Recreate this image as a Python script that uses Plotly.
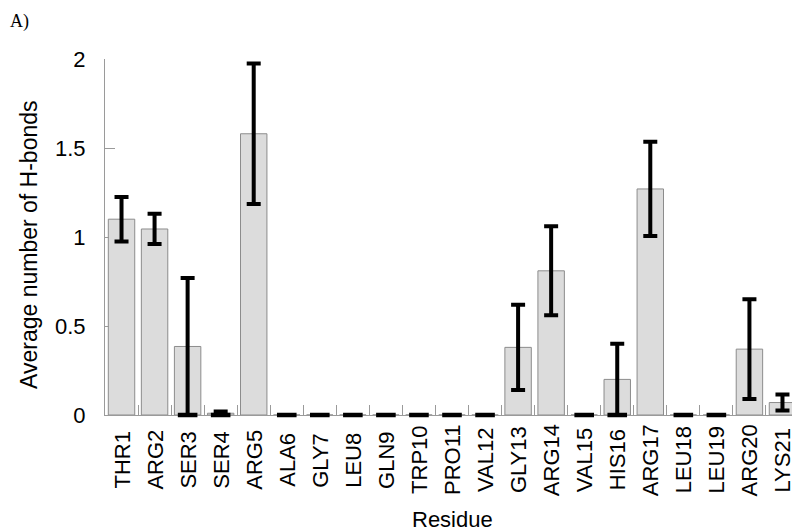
import plotly.graph_objects as go

residues = ["THR1", "ARG2", "SER3", "SER4", "ARG5", "ALA6", "GLY7", "LEU8", "GLN9", "TRP10",
            "PRO11", "VAL12", "GLY13", "ARG14", "VAL15", "HIS16", "ARG17", "LEU18", "LEU19",
            "ARG20", "LYS21"]
avg_hbonds = [1.10, 1.045, 0.385, 0.01, 1.58, 0, 0, 0, 0, 0,
              0, 0, 0.38, 0.81, 0, 0.2, 1.27, 0, 0,
              0.37, 0.07]
err = [0.125, 0.085, 0.385, 0.01, 0.395, 0, 0, 0, 0, 0,
       0, 0, 0.24, 0.25, 0, 0.2, 0.265, 0, 0,
       0.28, 0.045]

axis_grey = "#9a9a9a"

fig = go.Figure(go.Bar(
    x=residues,
    y=avg_hbonds,
    width=0.8,
    marker=dict(color="#dcdcdc", line=dict(color="#8c8c8c", width=1)),
    error_y=dict(type="data", array=err, visible=True, color="black",
                 thickness=4, width=7),
))

# error bars that reach zero get clipped by the plot area, so draw their lower caps as markers
low = [(r, max(v - e, 0)) for r, v, e in zip(residues, avg_hbonds, err) if v - e <= 0.001]
fig.add_trace(go.Scatter(
    x=[r for r, _ in low], y=[y for _, y in low],
    mode="markers", cliponaxis=False, hoverinfo="skip",
    marker=dict(symbol="line-ew", size=14, line=dict(color="black", width=4.5)),
))

# page body has an 8px margin, so the figure is 8px smaller and offset
fig.update_layout(
    width=792, height=524,
    margin=dict(l=97, r=1, t=51, b=117),
    plot_bgcolor="white", paper_bgcolor="white",
    font=dict(family="Liberation Sans, Arial", size=22, color="black"),
    showlegend=False,
    bargap=0.2,
)

fig.update_xaxes(
    type="category",
    showline=True, linecolor=axis_grey, linewidth=1, layer="below traces",
    ticks="inside", tickson="boundaries", ticklen=10, tickcolor=axis_grey,
    showticklabels=False,
    showgrid=False,
)
fig.update_yaxes(
    range=[0, 2], tickvals=[0, 0.5, 1, 1.5, 2], ticktext=["0", "0.5", "1", "1.5", "2"],
    showline=True, linecolor=axis_grey, linewidth=1, layer="below traces",
    ticks="inside", ticklen=10, tickcolor=axis_grey,
    ticklabelstandoff=14,
    showgrid=False, zeroline=False,
)

# residue labels are vertically centred under the axis, so place them as rotated annotations
for r in residues:
    fig.add_annotation(text=r, x=r, xref="x", yref="paper", y=(407 - 452) / 356,
                       textangle=-90, xanchor="center", yanchor="middle",
                       showarrow=False, font=dict(size=22))

fig.add_annotation(text="Residue", xref="paper", yref="paper", x=0.5, y=(407 - 511) / 356,
                   xanchor="center", yanchor="middle", showarrow=False,
                   font=dict(size=22))
fig.add_annotation(text="Average number of H-bonds", xref="paper", yref="paper",
                   x=(29 - 105) / 694, y=(407 - 237) / 356, textangle=-90,
                   xanchor="center", yanchor="middle", showarrow=False,
                   font=dict(size=23))
fig.add_annotation(text="A)", xref="paper", yref="paper", x=-97 / 694, y=1 + 50 / 356,
                   xanchor="left", yanchor="top", showarrow=False,
                   font=dict(family="Liberation Serif, Times New Roman", size=18))

fig.write_html("out.html")
